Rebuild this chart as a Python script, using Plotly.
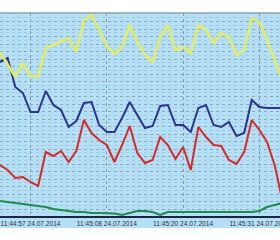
import plotly.graph_objects as go

# sample index (x) and tick labels
samples = list(range(38))
tick_idx = [4, 14, 24, 34]
tick_labels = ["11:44:57 24.07.2014", "11:45:08 24.07.2014",
               "11:45:20 24.07.2014", "11:45:31 24.07.2014"]

yellow = [164, 152, 139, 153, 140, 140, 168, 171, 175, 178, 164, 196, 201, 186, 170, 162, 169, 191, 174,
          161, 154, 179, 191, 166, 169, 163, 191, 186, 173, 183, 179, 161, 166, 198, 194, 176, 156, 136]
blue = [154, 158, 129, 123, 104, 104, 125, 111, 106, 89, 95, 113, 114, 91, 84, 84, 98, 114, 101,
        88, 90, 110, 111, 91, 91, 84, 108, 111, 91, 89, 94, 80, 83, 116, 109, 108, 108, 108]
red = [51, 46, 38, 39, 34, 30, 64, 60, 65, 54, 65, 96, 83, 76, 71, 54, 71, 90, 63,
       53, 56, 79, 71, 57, 69, 46, 89, 79, 71, 70, 56, 52, 64, 96, 86, 74, 51, 16]
green = [15, 14, 13, 12, 11, 10, 9, 7, 6, 5, 4, 4, 3, 3, 3, 2.5, 1, 3, 5,
         5, 4, 1, 4, 4, 4, 4, 4, 4, 4, 4, 4, 4, 4, 4, 5, 9, 11, 13]

BG = "#b3e0f6"

fig = go.Figure()
fig.add_trace(go.Scatter(x=samples, y=green, mode="lines", line=dict(color="#1f8a4c", width=2)))
fig.add_trace(go.Scatter(x=samples, y=red, mode="lines", line=dict(color="#d42a2a", width=2)))
fig.add_trace(go.Scatter(x=samples, y=blue, mode="lines", line=dict(color="#2b338f", width=2)))
fig.add_trace(go.Scatter(x=samples, y=yellow, mode="lines", line=dict(color="#e2ec66", width=2.5)))

fig.update_layout(
    width=280, height=240,
    margin=dict(l=0, r=0, t=13, b=24, autoexpand=False),
    paper_bgcolor="white", plot_bgcolor=BG,
    showlegend=False,
    shapes=[
        dict(type="rect", xref="paper", yref="paper", x0=0, x1=1, y0=-12 / 203, y1=0,
             fillcolor=BG, line=dict(width=0), layer="below"),
        dict(type="line", xref="paper", yref="paper", x0=0, x1=1, y0=1, y1=1,
             line=dict(color="#8fa3b3", width=1.5)),
    ],
)
fig.update_xaxes(range=[0.0, 36.7], tickvals=tick_idx, ticktext=tick_labels,
                 tickfont=dict(family="Liberation Sans, Arial", size=6.6, color="#333333"),
                 ticklabeloverflow="allow", automargin=False,
                 showgrid=True, gridcolor="#8a9aa6", griddash="dot", gridwidth=1,
                 showline=True, linecolor="#1a2740", linewidth=1.5, zeroline=False, ticks="")
fig.update_yaxes(range=[0, 203], tick0=7, dtick=7.5, showticklabels=False, automargin=False,
                 showgrid=True, gridcolor="#93a6b3", griddash="dot", gridwidth=1,
                 minor=dict(dtick=3.75, tick0=7, showgrid=True, gridcolor="#a9cadb", griddash="dot", gridwidth=1),
                 zeroline=False, showline=False)

fig.write_html("out.html")
